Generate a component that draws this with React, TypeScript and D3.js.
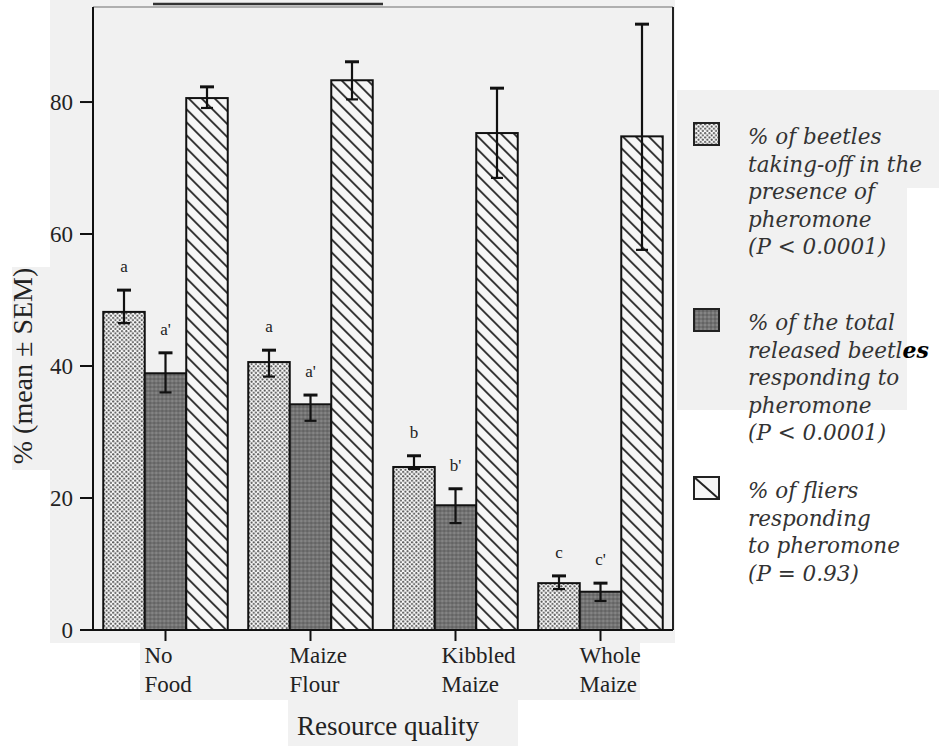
import { useEffect, useRef } from "react";
import * as d3 from "d3";

// resource quality treatments (x axis)
const categories = ["No Food", "Maize Flour", "Kibbled Maize", "Whole Maize"];
const categoryLines = [
  ["No", "Food"],
  ["Maize", "Flour"],
  ["Kibbled", "Maize"],
  ["Whole", "Maize"],
];
const seriesKeys = ["takeoff", "total", "fliers"];

// % of beetles taking-off in the presence of pheromone
const takeoffMean = [48.2, 40.6, 24.7, 7.1];
const takeoffHi = [51.5, 42.4, 26.4, 8.2];
const takeoffLo = [46.5, 38.4, 24.4, 6.2];
const takeoffLetters = ["a", "a", "b", "c"];

// % of the total released beetles responding to pheromone
const totalMean = [38.9, 34.2, 18.9, 5.8];
const totalHi = [42.0, 35.6, 21.4, 7.1];
const totalLo = [36.0, 31.7, 16.2, 4.4];
const totalLetters = ["a'", "a'", "b'", "c'"];

// % of fliers responding to pheromone
const fliersMean = [80.6, 83.3, 75.3, 74.8];
const fliersHi = [82.3, 86.1, 82.1, 91.8];
const fliersLo = [79.1, 80.4, 68.5, 57.6];

const yTicks = [0, 20, 40, 60, 80];
const yLabel = "% (mean \u00b1 SEM)";
const xLabel = "Resource quality";

const legendItems = [
  { key: "takeoff", lines: ["% of beetles", "taking-off in the", "presence of", "pheromone", "(P < 0.0001)"] },
  { key: "total", lines: ["% of the total", "released beetl|es", "responding to", "pheromone", "(P < 0.0001)"] },
  { key: "fliers", lines: ["% of fliers", "responding", "to pheromone", "(P = 0.93)"] },
];

const App = () => {
  const ref = useRef(null);

  useEffect(() => {
    const svg = d3.select(ref.current).attr("width", 939).attr("height", 746);
    svg.selectAll("*").remove();

    const frame = { left: 93, right: 673, top: 7, bottom: 630 };
    const bg = "#f1f1f1";
    const serif = "'Liberation Serif', 'Times New Roman', serif";

    // scanned page patches
    const patches = [
      [50, 0, 625, 643],
      [12, 267, 40, 203],
      [140, 640, 500, 60],
      [288, 698, 230, 48],
      [677, 90, 262, 98],
      [677, 186, 230, 224],
    ];
    svg
      .append("g")
      .selectAll("rect")
      .data(patches)
      .enter()
      .append("rect")
      .attr("x", (d) => d[0])
      .attr("y", (d) => d[1])
      .attr("width", (d) => d[2])
      .attr("height", (d) => d[3])
      .attr("fill", bg);

    const defs = svg.append("defs");
    const dots = defs
      .append("pattern")
      .attr("id", "dots")
      .attr("patternUnits", "userSpaceOnUse")
      .attr("width", 4.4)
      .attr("height", 4.4);
    dots.append("rect").attr("width", 4.4).attr("height", 4.4).attr("fill", "#fbfbfb");
    dots.append("circle").attr("cx", 1.1).attr("cy", 1.1).attr("r", 1.05).attr("fill", "#555");
    dots.append("circle").attr("cx", 3.3).attr("cy", 3.3).attr("r", 1.05).attr("fill", "#555");

    const dark = defs
      .append("pattern")
      .attr("id", "dark")
      .attr("patternUnits", "userSpaceOnUse")
      .attr("width", 4)
      .attr("height", 4);
    dark.append("rect").attr("width", 4).attr("height", 4).attr("fill", "#727272");
    dark.append("circle").attr("cx", 1).attr("cy", 1).attr("r", 0.7).attr("fill", "#a4a4a4");
    dark.append("circle").attr("cx", 3).attr("cy", 3).attr("r", 0.7).attr("fill", "#4a4a4a");

    const hatch = defs
      .append("pattern")
      .attr("id", "hatch")
      .attr("patternUnits", "userSpaceOnUse")
      .attr("width", 13)
      .attr("height", 13);
    hatch.append("rect").attr("width", 13).attr("height", 13).attr("fill", "#f6f6f6");
    hatch
      .append("path")
      .attr("d", "M-1,-1L14,14M-1,12L1,14M12,-1L14,1")
      .attr("stroke", "#1e1e1e")
      .attr("stroke-width", 1.7);

    const fills = { takeoff: "url(#dots)", total: "url(#dark)", fliers: "url(#hatch)" };

    const x0 = d3
      .scaleBand()
      .domain(categories)
      .range([frame.left, frame.right])
      .paddingInner(0.1414)
      .paddingOuter(0.0707);
    const x1 = d3.scaleBand().domain(seriesKeys).range([0, x0.bandwidth()]);
    const y = d3.scaleLinear().domain([0, 94.4]).range([frame.bottom, frame.top]);

    const rows = categories.map((c, i) => ({
      cat: c,
      bars: [
        { key: "takeoff", mean: takeoffMean[i], hi: takeoffHi[i], lo: takeoffLo[i], letter: takeoffLetters[i] },
        { key: "total", mean: totalMean[i], hi: totalHi[i], lo: totalLo[i], letter: totalLetters[i] },
        { key: "fliers", mean: fliersMean[i], hi: fliersHi[i], lo: fliersLo[i], letter: "" },
      ],
    }));

    // stray rule from the scanned page
    svg
      .append("line")
      .attr("x1", 153)
      .attr("x2", 383)
      .attr("y1", 4)
      .attr("y2", 4)
      .attr("stroke", "#333")
      .attr("stroke-width", 2.5);

    const groups = svg
      .append("g")
      .selectAll("g")
      .data(rows)
      .enter()
      .append("g")
      .attr("transform", (d) => `translate(${x0(d.cat)},0)`);

    groups
      .selectAll("rect")
      .data((d) => d.bars)
      .enter()
      .append("rect")
      .attr("x", (d) => x1(d.key))
      .attr("y", (d) => y(d.mean))
      .attr("width", x1.bandwidth())
      .attr("height", (d) => y(0) - y(d.mean))
      .attr("fill", (d) => fills[d.key])
      .attr("stroke", "#111")
      .attr("stroke-width", 2);

    const err = groups
      .selectAll("g.err")
      .data((d) => d.bars)
      .enter()
      .append("g")
      .attr("class", "err")
      .attr("transform", (d) => `translate(${x1(d.key) + x1.bandwidth() / 2},0)`);
    err
      .append("line")
      .attr("y1", (d) => y(d.lo))
      .attr("y2", (d) => y(d.hi))
      .attr("stroke", "#111")
      .attr("stroke-width", 2.2);
    err
      .append("line")
      .attr("x1", -7)
      .attr("x2", 7)
      .attr("y1", (d) => y(d.hi))
      .attr("y2", (d) => y(d.hi))
      .attr("stroke", "#111")
      .attr("stroke-width", 3);
    err
      .append("line")
      .attr("x1", -6)
      .attr("x2", 6)
      .attr("y1", (d) => y(d.lo))
      .attr("y2", (d) => y(d.lo))
      .attr("stroke", "#111")
      .attr("stroke-width", 2.2);
    err
      .append("text")
      .attr("y", (d) => y(d.hi) - 18)
      .attr("text-anchor", "middle")
      .style("font-family", serif)
      .style("font-size", "17px")
      .attr("fill", "#222")
      .text((d) => d.letter);

    // frame
    svg
      .append("line")
      .attr("x1", frame.left)
      .attr("x2", frame.right)
      .attr("y1", frame.top)
      .attr("y2", frame.top)
      .attr("stroke", "#999")
      .attr("stroke-width", 1.5);
    svg
      .append("line")
      .attr("x1", frame.right)
      .attr("x2", frame.right)
      .attr("y1", frame.top)
      .attr("y2", frame.bottom)
      .attr("stroke", "#222")
      .attr("stroke-width", 2);
    svg
      .append("line")
      .attr("x1", frame.left)
      .attr("x2", frame.left)
      .attr("y1", frame.top)
      .attr("y2", frame.bottom)
      .attr("stroke", "#111")
      .attr("stroke-width", 2);
    svg
      .append("line")
      .attr("x1", frame.left)
      .attr("x2", frame.right)
      .attr("y1", frame.bottom)
      .attr("y2", frame.bottom)
      .attr("stroke", "#111")
      .attr("stroke-width", 2);

    // y axis
    const yAxis = svg.append("g");
    yAxis
      .selectAll("line")
      .data(yTicks)
      .enter()
      .append("line")
      .attr("x1", frame.left - 13)
      .attr("x2", frame.left)
      .attr("y1", (d) => y(d))
      .attr("y2", (d) => y(d))
      .attr("stroke", "#111")
      .attr("stroke-width", 2);
    yAxis
      .selectAll("text")
      .data(yTicks)
      .enter()
      .append("text")
      .attr("x", frame.left - 20)
      .attr("y", (d) => y(d) + 8)
      .attr("text-anchor", "end")
      .style("font-family", serif)
      .style("font-size", "23px")
      .attr("fill", "#222")
      .text((d) => d);

    svg
      .append("text")
      .attr("transform", "translate(32,366) rotate(-90)")
      .attr("text-anchor", "middle")
      .style("font-family", serif)
      .style("font-size", "28px")
      .attr("fill", "#222")
      .text(yLabel);

    // x axis ticks under middle bar of each group
    const xAxis = svg.append("g");
    const tickX = (c) => x0(c) + x0.bandwidth() / 2;
    xAxis
      .selectAll("line")
      .data(categories)
      .enter()
      .append("line")
      .attr("x1", tickX)
      .attr("x2", tickX)
      .attr("y1", frame.bottom)
      .attr("y2", frame.bottom + 11)
      .attr("stroke", "#111")
      .attr("stroke-width", 2);
    const xl = xAxis
      .selectAll("text")
      .data(categories)
      .enter()
      .append("text")
      .attr("x", (c) => tickX(c) - 21)
      .attr("y", 663)
      .style("font-family", serif)
      .style("font-size", "23px")
      .attr("fill", "#222");
    xl.selectAll("tspan")
      .data((c, i) => categoryLines[i].map((t) => ({ t, x: tickX(c) - (i === 2 ? 14 : 21) })))
      .enter()
      .append("tspan")
      .attr("x", (d) => d.x)
      .attr("dy", (d, i) => (i === 0 ? 0 : 29))
      .text((d) => d.t);

    svg
      .append("text")
      .attr("x", 388)
      .attr("y", 735)
      .attr("text-anchor", "middle")
      .style("font-family", serif)
      .style("font-size", "27px")
      .attr("fill", "#222")
      .text(xLabel);

    // legend
    const legendTop = [123, 309, 477];
    const legend = svg.append("g");
    legendItems.forEach((item, idx) => {
      const top = legendTop[idx];
      legend
        .append("rect")
        .attr("x", 694)
        .attr("y", top)
        .attr("width", 25)
        .attr("height", 22)
        .attr("fill", item.key === "fliers" ? "#f6f6f6" : fills[item.key])
        .attr("stroke", "#222")
        .attr("stroke-width", 2);
      if (item.key === "fliers") {
        legend
          .append("line")
          .attr("x1", 694)
          .attr("y1", top)
          .attr("x2", 719)
          .attr("y2", top + 22)
          .attr("stroke", "#222")
          .attr("stroke-width", 2);
      }
      item.lines.forEach((ln, j) => {
        const t = legend
          .append("text")
          .attr("x", 748)
          .attr("y", top + 21 + j * 27.5)
          .style("font-family", "'DejaVu Serif', serif")
          .style("font-style", "italic")
          .style("font-size", "21.5px")
          .attr("fill", "#333");
        const parts = ln.split("|");
        t.append("tspan").text(parts[0]);
        if (parts[1]) {
          t.append("tspan")
            .style("font-weight", "bold")
            .style("font-size", "22px")
            .attr("fill", "#000")
            .text(parts[1]);
        }
      });
    });
  }, []);

  return (
    <div>
      <svg ref={ref} style={{ position: "absolute", left: 0, top: 0, background: "#fff" }}></svg>
    </div>
  );
};

export default App;
